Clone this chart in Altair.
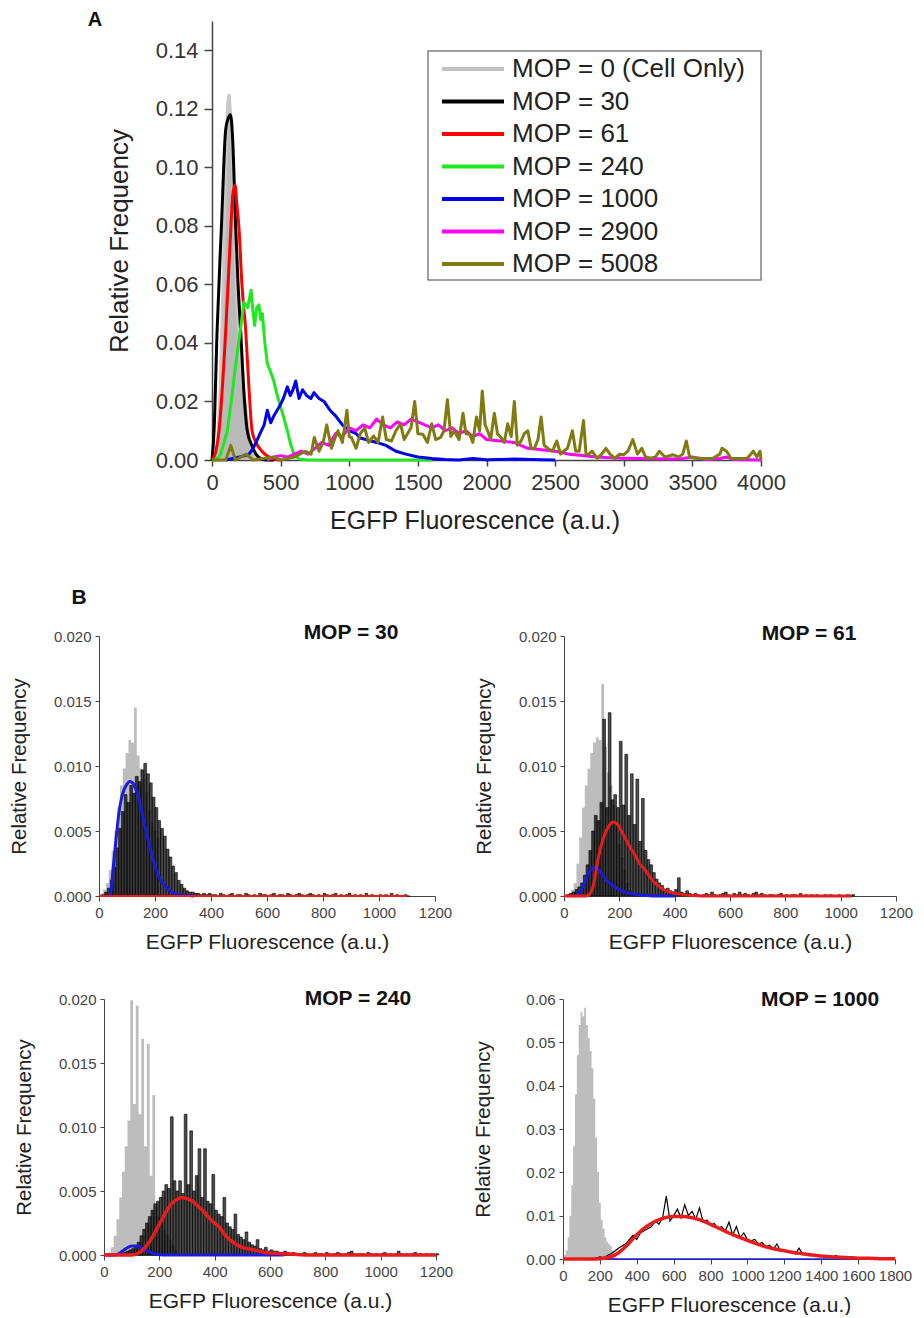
import altair as alt
import pandas as pd

FONT = "Liberation Sans"

# ---------------- Panel A data ----------------
A_LABELS = ["MOP = 0 (Cell Only)", "MOP = 30", "MOP = 61", "MOP = 240",
            "MOP = 1000", "MOP = 2900", "MOP = 5008"]
A_COLORS = ["#c2c2c2", "#000000", "#ff0000", "#1ee81e", "#0000f0", "#ff00ff", "#7f7b0f"]
A_XTICKS = [0, 500, 1000, 1500, 2000, 2500, 3000, 3500, 4000]
A_YTICKS = [0.0, 0.02, 0.04, 0.06, 0.08, 0.10, 0.12, 0.14]

A_X_0 = [0, 20, 40, 60, 80, 100, 115, 125, 140, 160, 180, 200, 220, 240, 260, 280, 300, 320]
A_Y_0 = [0, 0, 0.005, 0.025, 0.06, 0.1, 0.122, 0.125, 0.115, 0.085, 0.055, 0.04, 0.028, 0.02,
         0.012, 0.005, 0.002, 0]

A_X_30 = [0, 15, 37, 68, 100, 120, 135, 150, 173, 190, 209, 230, 257, 290, 320, 364, 400, 450]
A_Y_30 = [0, 0.01, 0.044, 0.079, 0.113, 0.117, 0.118, 0.11, 0.079, 0.06, 0.044, 0.025, 0.01,
          0.005, 0.002, 0.0003, 0, 0]

A_X_61 = [0, 15, 51, 100, 137, 150, 168, 180, 197, 218, 246, 270, 292, 320, 364, 400, 466, 500]
A_Y_61 = [0, 0.001, 0.01, 0.044, 0.079, 0.09, 0.094, 0.088, 0.079, 0.06, 0.044, 0.024, 0.01,
          0.006, 0.003, 0.0015, 0.0002, 0]

A_X_240 = [0, 30, 64, 112, 140, 174, 200, 233, 260, 285, 300, 311, 325, 342, 355, 367, 385, 403,
           428, 450, 470, 488, 520, 549, 575, 598, 634, 700, 1000, 1300, 1600]
A_Y_240 = [0, 0, 0.002, 0.01, 0.02, 0.033, 0.042, 0.054, 0.052, 0.058, 0.05, 0.046, 0.052, 0.053,
           0.048, 0.05, 0.04, 0.033, 0.03, 0.027, 0.023, 0.02, 0.015, 0.01, 0.005, 0.002, 0.0003,
           0, 0, 0, 0]

A_X_1000 = [100, 150, 200, 240, 270, 300, 330, 360, 380, 403, 428, 450, 488, 520, 549, 570, 590,
            610, 634, 660, 690, 720, 743, 780, 816, 860, 902, 950, 998, 1050, 1080, 1121, 1200,
            1267, 1340, 1413, 1500, 1603, 1700, 1800, 1900, 2000, 2200, 2400, 2500]
A_Y_1000 = [0, 0.0005, 0.001, 0.0015, 0.002, 0.004, 0.007, 0.01, 0.012, 0.017, 0.0127, 0.015,
            0.018, 0.021, 0.025, 0.022, 0.024, 0.027, 0.021, 0.024, 0.022, 0.021, 0.023, 0.021,
            0.02, 0.017, 0.015, 0.012, 0.01, 0.009, 0.0075, 0.007, 0.006, 0.005, 0.003, 0.002,
            0.001, 0.0005, 0.0002, 0, 0.0005, 0.0001, 0.0003, 0.0001, 0]

A_X_2900 = [400, 450, 500, 550, 600, 650, 700, 750, 800, 850, 900, 950, 1000, 1050, 1100, 1150,
            1200, 1250, 1300, 1350, 1400, 1450, 1500, 1550, 1600, 1650, 1700, 1750, 1800, 1850,
            1900, 1950, 2000, 2100, 2200, 2300, 2400, 2500, 2600, 2700, 2800, 2900, 3000, 3200,
            3400, 3500, 3600, 3700, 3750, 3800, 4000]
A_Y_2900 = [0, 0.001, 0.0015, 0.001, 0.002, 0.003, 0.002, 0.004, 0.006, 0.005,
            0.009, 0.008, 0.011, 0.01, 0.012, 0.011, 0.014, 0.012, 0.011, 0.013,
            0.012, 0.014, 0.013, 0.012, 0.011, 0.012, 0.01, 0.011, 0.009, 0.01,
            0.008, 0.009, 0.007, 0.0065, 0.006, 0.004, 0.0035, 0.003, 0.002, 0.0015,
            0.001, 0.0008, 0.0006, 0.0004, 0.0003, 0.001, 0.0002, 0.0005, 0.001, 0.0002, 0]

A_X_5008 = [0, 100, 137, 170, 250, 300, 450, 500, 600, 680,
            722, 745, 780, 810, 836, 870, 900, 918, 950, 983,
            1000, 1015, 1050, 1080, 1113, 1140, 1178, 1210, 1243, 1270,
            1308, 1340, 1373, 1400, 1422, 1450, 1477, 1500, 1536, 1570,
            1601, 1630, 1666, 1690, 1715, 1740, 1764, 1800, 1829, 1850,
            1878, 1900, 1927, 1950, 1969, 1990, 2008, 2030, 2057, 2080,
            2106, 2130, 2154, 2180, 2203, 2225, 2252, 2275, 2301, 2325,
            2350, 2375, 2398, 2420, 2447, 2480, 2512, 2540, 2561, 2590,
            2626, 2650, 2675, 2707, 2725, 2740, 2770, 2805, 2840, 2870,
            2900, 2935, 2970, 3000, 3030, 3066, 3100, 3131, 3160, 3196,
            3230, 3260, 3300, 3358, 3400, 3430, 3456, 3480, 3521, 3560,
            3600, 3650, 3700, 3716, 3749, 3781, 3820, 3870, 3900, 3944,
            3970, 3993, 4000]
A_Y_5008 = [0, 0, 0.005, 0, 0.002, 0, 0.001, 0, 0.001, 0.003,
            0.002, 0.0077, 0.003, 0.006, 0.012, 0.004, 0.008, 0.01, 0.006, 0.017,
            0.008, 0.0077, 0.004, 0.009, 0.011, 0.006, 0.0082, 0.006, 0.0147, 0.007,
            0.0065, 0.01, 0.0124, 0.007, 0.0088, 0.011, 0.02, 0.009, 0.0088, 0.006,
            0.0124, 0.007, 0.0077, 0.01, 0.0206, 0.008, 0.01, 0.007, 0.016, 0.009,
            0.0088, 0.006, 0.0147, 0.01, 0.0236, 0.012, 0.01, 0.007, 0.016, 0.009,
            0.0077, 0.006, 0.0124, 0.008, 0.02, 0.005, 0.0065, 0.009, 0.01, 0.004,
            0.004, 0.007, 0.0147, 0.005, 0.004, 0.003, 0.0065, 0.002, 0.003, 0.004,
            0.01, 0.003, 0.003, 0.0135, 0.002, 0.0018, 0.003, 0.0006, 0.002, 0.004,
            0.002, 0.0006, 0.002, 0.0018, 0.003, 0.007, 0.002, 0.004, 0.001, 0.0006,
            0.001, 0.003, 0.001, 0.0018, 0.001, 0.002, 0.0065, 0.001, 0.0006, 0.0005,
            0.0005, 0.0006, 0.002, 0.004, 0.003, 0.0006, 0.0005, 0.0005, 0.0006, 0.003,
            0.001, 0.003, 0]

# ---------------- Panel B data ----------------
B_XTICKS_1200 = [0, 200, 400, 600, 800, 1000, 1200]
B_XTICKS_1800 = [0, 200, 400, 600, 800, 1000, 1200, 1400, 1600, 1800]
B_YTICKS_020 = [0.0, 0.005, 0.010, 0.015, 0.020]
B_YTICKS_06 = [0.0, 0.01, 0.02, 0.03, 0.04, 0.05, 0.06]

# MOP = 30
B1_GRAY_X = list(range(0, 261, 10))
B1_GRAY_Y = [0, 0.0002, 0.0005, 0.001, 0.002, 0.0035, 0.005, 0.0068, 0.0085, 0.0098,
             0.011, 0.012, 0.0118, 0.0145, 0.0108, 0.0098, 0.009, 0.008, 0.0066, 0.0056,
             0.005, 0.0045, 0, 0, 0, 0, 0]
B1_BLACK_X = list(range(0, 1101, 10))
B1_BLACK_Y = [0, 0.0001, 0.0003, 0.0006, 0.0012, 0.0022, 0.0037, 0.0052, 0.0065, 0.0078,
              0.0072, 0.0085, 0.0079, 0.0092, 0.0088, 0.0097, 0.0102, 0.0094, 0.0087, 0.0076,
              0.0068, 0.0058, 0.0052, 0.0046, 0.0036, 0.003, 0.0023, 0.0018, 0.0012, 0.0009,
              0.0006, 0.0004, 0.0003, 0.0003, 0.0002, 0.0002, 0.0001, 0.0002, 0.0001, 0.0002,
              0.0001,
              0.0001, 0, 0.0002, 0.0001, 0, 0.0001, 0.0002, 0, 0.0001, 0.0001,
              0, 0.0002, 0.0001, 0, 0.0001, 0, 0.0002, 0.0001, 0.0001, 0,
              0.0001, 0.0002, 0, 0.0001, 0.0001, 0, 0.0002, 0.0001, 0, 0.0001,
              0.0002, 0.0001, 0, 0.0001, 0.0002, 0.0001, 0, 0.0001, 0, 0.0002,
              0.0001, 0, 0.0001, 0.0002, 0, 0.0001, 0, 0.0001, 0.0002, 0,
              0.0001, 0, 0.0001, 0, 0.0002, 0, 0.0001, 0, 0, 0.0001,
              0, 0.0001, 0, 0.0002, 0, 0.0001, 0, 0, 0.0001, 0]
B1_BLUE_X = [40, 45, 50, 60, 70, 80, 90, 100, 110, 120, 130, 140, 150, 160, 170, 180, 190, 200,
             210, 220, 230, 240, 250, 260, 280, 300, 340]
B1_BLUE_Y = [0, 0.0008, 0.002, 0.0042, 0.0062, 0.0075, 0.0082, 0.0086, 0.0088, 0.0087, 0.0083,
             0.0077, 0.0068, 0.0058, 0.0048, 0.0039, 0.0031, 0.0023, 0.0017, 0.0012, 0.0009,
             0.0007, 0.0005, 0.0003, 0.0001, 0.00005, 0]
B1_RED_X = [0, 1100]
B1_RED_Y = [0, 0]

# MOP = 61
B2_GRAY_X = list(range(0, 251, 10))
B2_GRAY_Y = [0, 0, 0.0002, 0.0005, 0.001, 0.0025, 0.0045, 0.0068, 0.0085, 0.0098,
             0.011, 0.0118, 0.0122, 0.012, 0.0163, 0.0115, 0.0095, 0.0085, 0.007, 0.0055,
             0.004, 0.003, 0.002, 0.001, 0.0004, 0]
B2_BLACK_X = list(range(0, 1041, 10))
B2_BLACK_Y = [0, 0.0001, 0.0002, 0.0003, 0.0005, 0.0007, 0.001, 0.0016, 0.0024, 0.0035,
              0.005, 0.0062, 0.0058, 0.0072, 0.0136, 0.0068, 0.0141, 0.0074, 0.0078, 0.0068,
              0.0119, 0.007, 0.0109, 0.0062, 0.0094, 0.0055, 0.009, 0.0042, 0.0075, 0.0035,
              0.0028, 0.0024, 0.0018, 0.0013, 0.001, 0.0008, 0.0005, 0.0006, 0.0004, 0.0003,
              0.0005, 0.0014, 0.0003, 0.0002, 0.0004, 0.0002,
              0.0001, 0.0002, 0.0001, 0, 0.0001, 0.0002, 0.0001, 0.0003, 0.0001, 0,
              0.0001, 0.0002, 0.0003, 0.0001, 0, 0.0002, 0.0001, 0.0003, 0.0001, 0.0002,
              0.0001, 0, 0.0002, 0.0003, 0.0001, 0.0002, 0.0001, 0, 0.0001, 0.0001,
              0, 0.0001, 0.0002, 0, 0.0001, 0, 0.0001, 0.0001, 0, 0.0002,
              0, 0.0001, 0, 0.0001, 0, 0.0001, 0, 0, 0.0001, 0,
              0.0001, 0, 0, 0.0001, 0, 0, 0.0001, 0, 0.0001]
B2_BLUE_X = [40, 50, 60, 70, 80, 90, 100, 110, 120, 130, 140, 150, 160, 170, 180, 190, 200, 210,
             220, 240, 260, 280, 300, 340, 400]
B2_BLUE_Y = [0, 0.0001, 0.0004, 0.0008, 0.0013, 0.0018, 0.0021, 0.0022, 0.0021, 0.0019, 0.0016,
             0.0013, 0.0011, 0.0009, 0.00075, 0.0006, 0.0005, 0.0004, 0.0003, 0.0002, 0.00012,
             0.00008, 0.00004, 0, 0]
B2_RED_X = [0, 80, 100, 110, 120, 130, 140, 150, 160, 170, 180, 190, 200, 210, 220, 230, 240,
            250, 260, 270, 280, 290, 300, 320, 340, 360, 400, 500, 700, 900, 1040]
B2_RED_Y = [0, 0, 0.0004, 0.0012, 0.0025, 0.0035, 0.0043, 0.0049, 0.0053, 0.0056, 0.0057,
            0.0056, 0.0053, 0.0049, 0.0045, 0.0041, 0.0037, 0.0034, 0.003, 0.0026, 0.0023,
            0.0021, 0.0018, 0.0012, 0.0008, 0.0005, 0.0002, 0, 0, 0, 0]

# MOP = 240
B3_GRAY_X = list(range(0, 271, 10))
B3_GRAY_Y = [0, 0, 0.0002, 0.0006, 0.0015, 0.0028, 0.0045, 0.0065, 0.0085, 0.0105,
             0.0199, 0.0118, 0.0195, 0.011, 0.0169, 0.0085, 0.0165, 0.0062, 0.0125, 0.0038,
             0.003, 0.0025, 0.002, 0.0016, 0.0012, 0.0008, 0.0004, 0]
B3_BLACK_X = list(range(0, 1201, 10))
B3_BLACK_Y = [0, 0, 0, 0, 0.0001, 0.0001, 0.0001, 0.0002, 0.0003, 0.0004,
              0.0005, 0.0007, 0.001, 0.0015, 0.002, 0.0025, 0.003, 0.0035, 0.004, 0.0042,
              0.0045, 0.005, 0.0055, 0.0052, 0.0108, 0.0058, 0.005, 0.0058, 0.0048, 0.011,
              0.0055, 0.0097, 0.005, 0.0062, 0.0083, 0.0045, 0.0083, 0.0042, 0.004, 0.0063,
              0.0035, 0.0032, 0.003, 0.0045, 0.0025, 0.0022, 0.002, 0.0032, 0.0016, 0.0014,
              0.0012, 0.0018, 0.001, 0.0008, 0.0007, 0.0012, 0.0005, 0.0004, 0.0006, 0.0003,
              0.0004, 0.0003, 0.0003, 0.0002, 0.0002, 0.0003, 0.0002, 0.0001, 0.0002, 0.0001,
              0.0001,
              0.0001, 0.0002, 0.0001, 0, 0.0001, 0.0002, 0.0001, 0.0001, 0, 0.0002,
              0.0001, 0, 0.0001, 0.0002, 0.0001, 0, 0.0001, 0.0002, 0.0003, 0.0001,
              0, 0.0001, 0.0001, 0, 0.0002, 0.0001, 0, 0.0001, 0, 0.0001,
              0.0002, 0, 0.0001, 0, 0.0001, 0.0003, 0.0001, 0, 0.0001, 0,
              0.0001, 0.0002, 0, 0.0001, 0, 0.0001, 0, 0.0001, 0, 0.0001]
B3_BLUE_X = [0, 40, 60, 80, 100, 120, 140, 160, 180, 200, 220, 650]
B3_BLUE_Y = [0, 0, 0.0002, 0.0005, 0.0007, 0.0007, 0.0005, 0.0003, 0.0001, 0.00004, 0, 0]
B3_RED_X = [0, 100, 120, 140, 160, 180, 200, 220, 240, 260, 280, 300, 320, 340, 360, 380, 400,
            420, 440, 460, 480, 500, 520, 540, 560, 580, 600, 650, 700, 750, 1200]
B3_RED_Y = [0, 0, 0.0001, 0.0004, 0.0009, 0.0016, 0.0024, 0.0032, 0.0039, 0.0043, 0.0045,
            0.0044, 0.0042, 0.0038, 0.0034, 0.0029, 0.0025, 0.0021, 0.0015, 0.0011, 0.0008,
            0.0006, 0.0005, 0.0004, 0.0003, 0.0002, 0.00015, 0.0001, 0.00004, 0, 0]

# MOP = 1000
B4_GRAY_X = list(range(0, 291, 10))
B4_GRAY_Y = [0, 0.001, 0.002, 0.005, 0.01, 0.017, 0.026, 0.038, 0.047, 0.054,
             0.057, 0.056, 0.058, 0.054, 0.051, 0.048, 0.044, 0.037, 0.028, 0.02,
             0.013, 0.009, 0.007, 0.005, 0.004, 0.0035, 0.003, 0.002, 0.001, 0.0003]
B4_BLACK_X = list(range(160, 1601, 20))
B4_BLACK_Y = [0, 0.0002, 0.0005, 0.0003, 0.0008, 0.0012, 0.0018, 0.0025, 0.003, 0.0035,
              0.0045, 0.0055, 0.0045, 0.006, 0.0065, 0.007, 0.0075, 0.0088, 0.008, 0.0095,
              0.0145, 0.0088, 0.01, 0.0115, 0.0095, 0.0125, 0.01, 0.011, 0.0092, 0.0118,
              0.0085, 0.009, 0.0078, 0.0082, 0.007, 0.0075, 0.0065, 0.0085, 0.0055, 0.0075,
              0.005, 0.006, 0.0045, 0.0042, 0.0045, 0.0035, 0.0038, 0.0028, 0.0032, 0.0022,
              0.0035, 0.0018, 0.002, 0.0015, 0.0018, 0.0012, 0.0025, 0.001, 0.0012, 0.0008,
              0.001, 0.0007, 0.0008, 0.0005, 0.0006, 0.0004, 0.0008, 0.0003, 0.0003, 0.0002,
              0.0002, 0.0001, 0.0001]
B4_BLUE_X = [0, 1600]
B4_BLUE_Y = [0, 0]
B4_RED_X = list(range(0, 1801, 50))
B4_RED_Y = [0, 0, 0, 0, 0.00005, 0.0004, 0.0014, 0.0033, 0.0056, 0.0074,
            0.0087, 0.0095, 0.0098, 0.0098, 0.0095, 0.0089, 0.008, 0.007, 0.006, 0.0051,
            0.0043, 0.0035, 0.0028, 0.0023, 0.0019, 0.0015, 0.0012, 0.0009, 0.0007, 0.0005,
            0.0004, 0.0003, 0.0002, 0.00015, 0.0001, 0.00005, 0.00003]


def df(xs, ys):
    return pd.DataFrame({"x": xs, "y": ys})


ONE = pd.DataFrame({"t": [0]})

# ---------------- Panel A ----------------
# The panel's group starts at the same x as the B panels; the data rectangle
# begins A_OFF pixels further right (x range and y-axis offset).
A_OFF = 113
A_W = 549
xA = alt.X("x:Q", scale=alt.Scale(domain=[0, 4000], nice=False, range=[A_OFF, A_OFF + A_W]),
           axis=alt.Axis(values=A_XTICKS, format="d", title="EGFP Fluorescence (a.u.)",
                         labelFontSize=22, titleFontSize=25, tickSize=6, labelPadding=6,
                         titlePadding=14, minExtent=34, maxExtent=34, labelOverlap=False,
                         labelFlush=False, titleX=A_OFF + A_W / 2 - 12,
                         domainWidth=1.5, tickWidth=1.5))
yA = alt.Y("y:Q", scale=alt.Scale(domain=[0, 0.15], nice=False),
           axis=alt.Axis(values=A_YTICKS, format=".2f", title="Relative Frequency",
                         labelFontSize=22, titleFontSize=26, tickSize=8, labelPadding=6,
                         titlePadding=23, minExtent=57, maxExtent=57, offset=-A_OFF,
                         labelOverlap=False, labelFlush=False, domainWidth=1.5, tickWidth=1.5))

a_area = alt.Chart(df(A_X_0, A_Y_0)).mark_area(color="#b9b9b9").encode(x=xA, y=yA)
a_layers = [a_area,
            alt.Chart(df(A_X_0, A_Y_0)).mark_line(color="#c8c8c8", strokeWidth=3).encode(x=xA, y=yA)]
for xs, ys, col, interp in [(A_X_30, A_Y_30, A_COLORS[1], "monotone"),
                            (A_X_61, A_Y_61, A_COLORS[2], "monotone"),
                            (A_X_240, A_Y_240, A_COLORS[3], "linear"),
                            (A_X_1000, A_Y_1000, A_COLORS[4], "linear"),
                            (A_X_2900, A_Y_2900, A_COLORS[5], "linear"),
                            (A_X_5008, A_Y_5008, A_COLORS[6], "linear")]:
    a_layers.append(alt.Chart(df(xs, ys)).mark_line(color=col, strokeWidth=3, interpolate=interp,
                                                    strokeJoin="round").encode(x=xA, y=yA))

a_tag = alt.Chart(ONE).mark_text(text="A", font=FONT, fontSize=20, fontWeight="bold",
                                 color="#111111", align="center", baseline="middle").encode(
    x=alt.value(-4), y=alt.value(-1))
a_layers.append(a_tag)

leg_df = pd.DataFrame({"label": A_LABELS})
ly = alt.Y("label:N", scale=alt.Scale(type="point", domain=A_LABELS, range=[48, 243], padding=0),
           axis=None)
leg_box = alt.Chart(ONE).mark_rect(fill="white", stroke="#808080", strokeWidth=1.5).encode(
    x=alt.value(A_OFF + 216), x2=alt.value(A_OFF + 549), y=alt.value(30), y2=alt.value(259))
leg_rules = alt.Chart(leg_df).mark_rule(strokeWidth=4).encode(
    y=ly, x=alt.value(A_OFF + 230), x2=alt.value(A_OFF + 292),
    color=alt.Color("label:N", scale=alt.Scale(domain=A_LABELS, range=A_COLORS), legend=None))
leg_text = alt.Chart(leg_df).mark_text(align="left", baseline="middle", font=FONT, fontSize=26,
                                       color="#222222").encode(
    y=ly, x=alt.value(A_OFF + 300), text="label:N")

panelA = alt.layer(alt.layer(*a_layers), alt.layer(leg_box, leg_rules, leg_text)).resolve_scale(
    y="independent").properties(width=A_OFF + A_W, height=439)


# ---------------- Panel B ----------------
def b_panel(gx, gy, kx, ky, k_bars, k_bin, bx, by, b_w, rx, ry, r_w,
            xmax, xticks, ymax, yticks, yfmt, label, lx, lyy, tag_op, tag_y, width,
            height=260, x_off=0):
    xs = alt.X("x:Q", scale=alt.Scale(domain=[0, xmax], nice=False, range=[x_off, x_off + width]),
               axis=alt.Axis(values=xticks, format="d", title="EGFP Fluorescence (a.u.)",
                             labelFontSize=15, titleFontSize=21, tickSize=5, labelPadding=4,
                             titlePadding=11, minExtent=24, maxExtent=24, labelOverlap=False,
                             labelFlush=False, labelColor="#444444"))
    ys = alt.Y("y:Q", scale=alt.Scale(domain=[0, ymax], nice=False),
               axis=alt.Axis(values=yticks, format=yfmt, title="Relative Frequency",
                             labelFontSize=15, titleFontSize=20.5, tickSize=4, labelPadding=4,
                             titlePadding=25, minExtent=45, maxExtent=45, labelOverlap=False,
                             labelFlush=False, labelColor="#444444", offset=-x_off))
    gray = alt.Chart(df(gx, gy)).mark_area(interpolate="step", color="#bdbdbd").encode(x=xs, y=ys)
    if k_bars:
        kdf = pd.DataFrame({"x": kx, "x2": [v + k_bin for v in kx], "y": ky})
        black = alt.Chart(kdf).mark_bar(fill="black", fillOpacity=0.7, stroke="black",
                                        strokeWidth=0.6).encode(
            x=xs, x2="x2:Q", y=ys, y2=alt.datum(0))
    else:
        black = alt.Chart(df(kx, ky)).mark_line(color="black", strokeWidth=1.2).encode(x=xs, y=ys)
    blue = alt.Chart(df(bx, by)).mark_line(color="#1a1ae0", strokeWidth=b_w,
                                           interpolate="monotone").encode(x=xs, y=ys)
    red = alt.Chart(df(rx, ry)).mark_line(color="#e81c1c", strokeWidth=r_w,
                                          interpolate="monotone").encode(x=xs, y=ys)
    title = alt.Chart(ONE).mark_text(text=label, font=FONT, fontSize=21, fontWeight="bold",
                                     color="#111111", align="center", baseline="middle").encode(
        x=alt.value(x_off + lx), y=alt.value(lyy))
    tag = alt.Chart(ONE).mark_text(text="B", font=FONT, fontSize=21, fontWeight="bold",
                                   color="#111111", opacity=tag_op, align="center",
                                   baseline="middle").encode(x=alt.value(-20), y=alt.value(tag_y))
    return alt.layer(gray, black, blue, red, title, tag).properties(width=x_off + width,
                                                                    height=height)


B1 = b_panel(B1_GRAY_X, B1_GRAY_Y, B1_BLACK_X, B1_BLACK_Y, True, 10,
             B1_BLUE_X, B1_BLUE_Y, 3, B1_RED_X, B1_RED_Y, 2,
             1200, B_XTICKS_1200, 0.02, B_YTICKS_020, ".3f", "MOP = 30", 252, -3, 1, -38, 336)
B2 = b_panel(B2_GRAY_X, B2_GRAY_Y, B2_BLACK_X, B2_BLACK_Y, True, 10,
             B2_BLUE_X, B2_BLUE_Y, 3, B2_RED_X, B2_RED_Y, 3,
             1200, B_XTICKS_1200, 0.02, B_YTICKS_020, ".3f", "MOP = 61", 245, -2, 0, -38, 332)
B3 = b_panel(B3_GRAY_X, B3_GRAY_Y, B3_BLACK_X, B3_BLACK_Y, True, 10,
             B3_BLUE_X, B3_BLUE_Y, 3, B3_RED_X, B3_RED_Y, 3.5,
             1200, B_XTICKS_1200, 0.02, B_YTICKS_020, ".3f", "MOP = 240", 254, 0, 0, -20, 332,
             height=256, x_off=5)
B4 = b_panel(B4_GRAY_X, B4_GRAY_Y, B4_BLACK_X, B4_BLACK_Y, False, 20,
             B4_BLUE_X, B4_BLUE_Y, 1.5, B4_RED_X, B4_RED_Y, 3.5,
             1800, B_XTICKS_1800, 0.06, B_YTICKS_06, ".2f", "MOP = 1000", 257, 1, 0, -20, 332)

gridB = alt.vconcat(alt.hconcat(B1, B2, spacing=22), alt.hconcat(B3, B4, spacing=20), spacing=16)

chart = alt.vconcat(panelA, gridB, spacing=54).properties(
    padding={"left": 1, "top": 2, "right": 0, "bottom": 0}
).configure(font=FONT).configure_view(stroke=None).configure_axis(
    labelFont=FONT, titleFont=FONT, titleFontWeight="normal", labelColor="#333333",
    titleColor="#222222", domainColor="#444444", tickColor="#444444", grid=False,
    labelFlush=False
)

chart.save("out.html", embed_options={"renderer": "svg", "actions": False})
